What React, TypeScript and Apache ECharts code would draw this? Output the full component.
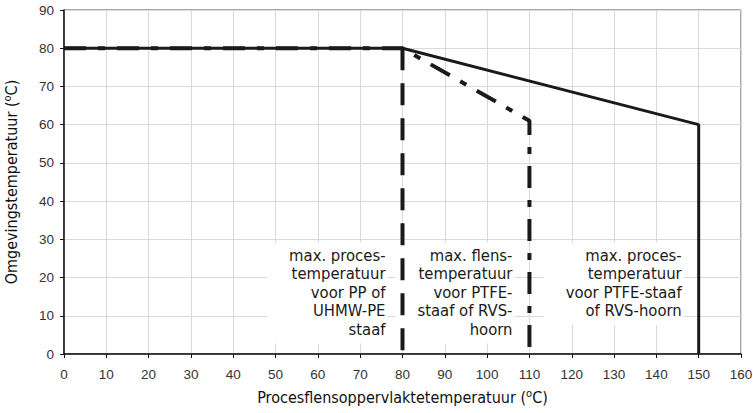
import React, { useEffect, useRef } from "react";
import * as echarts from "echarts";

// Data (°C)
const xTickMax = 160;
const yTickMax = 90;
const ptfeProcessLine: [number, number][] = [[0, 80], [80, 80], [150, 60], [150, 0]];
const ppProcessLine: [number, number][] = [[80, 80], [80, 0]];
const flangeLine: [number, number][] = [[0, 80], [80, 80], [110, 61], [110, 0]];

const labelTexts = [
  "max. proces-\ntemperatuur\nvoor PP of\nUHMW-PE\nstaaf",
  "max. flens-\ntemperatuur\nvoor PTFE-\nstaaf of RVS-\nhoorn",
  "max. proces-\ntemperatuur\nvoor PTFE-staaf\nof RVS-hoorn",
];
const labelAnchorX = [80, 110, 150];
const labelAnchorTopY = 29.2;

const condensed = '"Liberation Sans Narrow", "DejaVu Sans Condensed", "Arial Narrow", sans-serif';
const tickFont = '"Liberation Sans", Arial, sans-serif';

export default function App() {
  const ref = useRef<HTMLDivElement>(null);
  useEffect(() => {
    if (!ref.current) return;
    const chart = echarts.init(ref.current, undefined, { renderer: "svg" });
    chart.setOption({
      animation: false,
      grid: {
        left: 64, right: 12, top: 10, bottom: 59,
        containLabel: false, outerBoundsMode: "none",
        show: true, borderColor: "#555", borderWidth: 1, backgroundColor: "transparent",
      },
      xAxis: {
        type: "value", min: 0, max: xTickMax, interval: 10,
        name: "Procesflensoppervlaktetemperatuur ({sup|o}C)",
        nameLocation: "middle", nameGap: 34,
        nameTextStyle: {
          fontFamily: condensed, fontSize: 16, color: "#111",
          rich: { sup: { fontFamily: condensed, fontSize: 11, verticalAlign: "top", padding: [0, 0, 8, 0], color: "#111" } },
        },
        axisLine: { lineStyle: { color: "#111", width: 1.5 } },
        axisTick: { show: true, length: 4, lineStyle: { color: "#111" } },
        axisLabel: { fontFamily: tickFont, fontSize: 13.5, color: "#333", margin: 13 },
        splitLine: { show: true, lineStyle: { color: "#d9d9d9", width: 1 } },
      },
      yAxis: {
        type: "value", min: 0, max: yTickMax, interval: 10,
        name: "Omgevingstemperatuur ({sup|o}C)",
        nameLocation: "middle", nameGap: 43, nameRotate: 90,
        nameTextStyle: {
          fontFamily: condensed, fontSize: 16, color: "#111",
          rich: { sup: { fontFamily: condensed, fontSize: 11, color: "#111", padding: [0, 0, 8, 0] } },
        },
        axisLine: { show: true, lineStyle: { color: "#111", width: 1.5 } },
        axisTick: { show: true, length: 4, lineStyle: { color: "#111" } },
        axisLabel: { fontFamily: tickFont, fontSize: 13.5, color: "#333", margin: 10 },
        splitLine: { show: true, lineStyle: { color: "#d9d9d9", width: 1 } },
      },
      series: [
        {
          type: "line", data: ptfeProcessLine, symbol: "none", z: 3,
          lineStyle: { color: "#1a1a1a", width: 3, type: "solid" },
        },
        {
          type: "line", data: ppProcessLine, symbol: "none", z: 4,
          lineStyle: { color: "#1a1a1a", width: 4, type: [22, 13] },
        },
        {
          type: "line", data: flangeLine, symbol: "none", z: 4,
          lineStyle: { color: "#1a1a1a", width: 4, type: [22, 12, 7, 12] },
        },
      ],
    });
    const graphics = labelTexts.map((t, i) => {
      const p = chart.convertToPixel({ gridIndex: 0 }, [labelAnchorX[i], labelAnchorTopY]) as number[];
      return {
        type: "text",
        x: p[0] - 15,
        y: p[1],
        z: 2,
        style: {
          text: t,
          align: "right",
          verticalAlign: "top",
          font: `16.5px ${condensed}`,
          lineHeight: 18.4,
          fill: "#1a1a1a",
          backgroundColor: "#fff",
          padding: [4, 2, 5, 22],
        },
      };
    });
    chart.setOption({ graphic: graphics });
    return () => chart.dispose();
  }, []);
  return <div ref={ref} style={{ width: 753, height: 413, position: "absolute", left: 0, top: 0 }} />;
}
